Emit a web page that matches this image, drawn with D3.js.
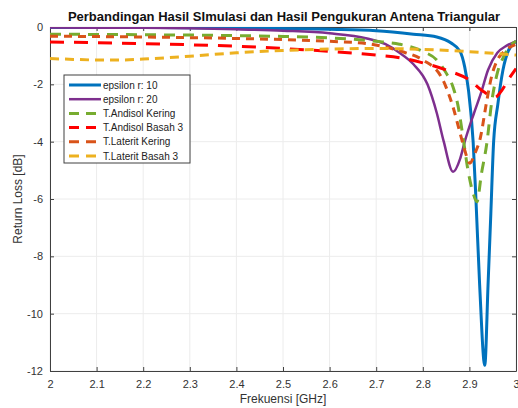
<!DOCTYPE html>
<html>
<head>
<meta charset="utf-8">
<script src="https://cdn.jsdelivr.net/npm/d3@7"></script>
<style>
  body { margin: 0; background: #fff; }
  text { font-family: "Liberation Sans", Arial, sans-serif; }
</style>
</head>
<body>
<div id="chart"></div>
<script>
// data
var xTicks = [2, 2.1, 2.2, 2.3, 2.4, 2.5, 2.6, 2.7, 2.8, 2.9, 3]
var yTicks = [0, -2, -4, -6, -8, -10, -12]

var epsilon10 = [[2.0,-0.02],[2.2,-0.02],[2.4,-0.04],[2.6,-0.08],[2.7,-0.13],[2.78,-0.25],[2.83,-0.35],[2.86,-0.55],[2.88,-0.85],[2.89,-1.4],[2.898,-2.2],[2.908,-4],[2.914,-6],[2.922,-9],[2.933,-11.8],[2.94,-9],[2.946,-6.5],[2.952,-4],[2.961,-2.7],[2.972,-1.5],[2.983,-0.85],[3.0,-0.5]]
var epsilon20 = [[2.0,-0.02],[2.2,-0.03],[2.4,-0.08],[2.5,-0.13],[2.6,-0.22],[2.68,-0.4],[2.72,-0.6],[2.75,-0.9],[2.78,-1.3],[2.81,-2.0],[2.83,-3.0],[2.845,-4.0],[2.865,-5.05],[2.88,-4.6],[2.89,-4.0],[2.91,-3.0],[2.925,-2.3],[2.94,-1.5],[2.96,-0.9],[2.98,-0.65],[3.0,-0.5]]
var andisolKering = [[2.0,-0.25],[2.2,-0.27],[2.4,-0.3],[2.5,-0.33],[2.6,-0.38],[2.7,-0.5],[2.75,-0.6],[2.8,-0.85],[2.83,-1.15],[2.85,-1.6],[2.865,-2.1],[2.875,-2.7],[2.885,-3.7],[2.897,-5.0],[2.908,-5.8],[2.916,-6.1],[2.926,-5.1],[2.937,-4.1],[2.948,-2.6],[2.96,-1.6],[2.973,-1.05],[2.985,-0.7],[3.0,-0.5]]
var andisolBasah = [[2.0,-0.52],[2.1,-0.55],[2.2,-0.58],[2.3,-0.62],[2.4,-0.67],[2.5,-0.75],[2.6,-0.85],[2.7,-0.98],[2.75,-1.07],[2.8,-1.25],[2.85,-1.5],[2.9,-1.85],[2.93,-2.25],[2.955,-2.45],[2.97,-2.2],[2.985,-1.8],[3.0,-1.45]]
var lateritKering = [[2.0,-0.32],[2.2,-0.35],[2.4,-0.4],[2.5,-0.44],[2.6,-0.5],[2.68,-0.58],[2.72,-0.7],[2.76,-0.88],[2.8,-1.15],[2.84,-1.75],[2.865,-2.8],[2.88,-3.7],[2.89,-4.3],[2.901,-4.75],[2.912,-4.4],[2.923,-3.9],[2.937,-2.6],[2.948,-1.7],[2.96,-1.15],[2.975,-0.85],[3.0,-0.6]]
var lateritBasah = [[2.0,-1.1],[2.05,-1.13],[2.1,-1.15],[2.15,-1.15],[2.2,-1.12],[2.3,-1.02],[2.4,-0.9],[2.5,-0.82],[2.6,-0.77],[2.7,-0.75],[2.8,-0.78],[2.9,-0.86],[3.0,-0.98]]

var series = [
  {name: "epsilon r: 10", values: epsilon10, color: "#0072BD", width: 3, dash: null},
  {name: "epsilon r: 20", values: epsilon20, color: "#7E2F8E", width: 2.5, dash: null},
  {name: "T.Andisol Kering", values: andisolKering, color: "#77AC30", width: 3, dash: "11,8"},
  {name: "T.Andisol Basah 3", values: andisolBasah, color: "#FF0000", width: 3, dash: "14,10"},
  {name: "T.Laterit Kering", values: lateritKering, color: "#D95319", width: 3, dash: "8,6"},
  {name: "T.Laterit Basah 3", values: lateritBasah, color: "#EDB120", width: 3, dash: "9,6"}
]

var W = 518, H = 408
var margin = {top: 27, right: 2, bottom: 37, left: 50},
    width = 466,
    height = 344

var svg = d3.select("#chart")
  .append("svg")
    .attr("width", W)
    .attr("height", H)

var g = svg.append("g")
  .attr("transform", "translate(" + margin.left + "," + margin.top + ")")

var x = d3.scaleLinear().domain([2, 3]).range([0, width])
var y = d3.scaleLinear().domain([-12, 0]).range([height, 0])

// grid
g.selectAll(".vgrid").data(xTicks).enter().append("line")
  .attr("x1", d => x(d)).attr("x2", d => x(d))
  .attr("y1", 0).attr("y2", height)
  .attr("stroke", "#ececec").attr("stroke-width", 1)
g.selectAll(".hgrid").data(yTicks).enter().append("line")
  .attr("x1", 0).attr("x2", width)
  .attr("y1", d => y(d)).attr("y2", d => y(d))
  .attr("stroke", "#ececec").attr("stroke-width", 1)

// axes, ticks pointing inward like matlab
var axisCol = "#404040"
g.append("g")
  .attr("transform", "translate(0," + height + ")")
  .call(d3.axisBottom(x).tickValues(xTicks).tickSizeInner(-4).tickSizeOuter(0).tickPadding(9).tickFormat(d3.format("")))
g.append("g")
  .call(d3.axisLeft(y).tickValues(yTicks).tickSizeInner(-4).tickSizeOuter(0).tickPadding(7).tickFormat(d => d === 0 ? "0" : "-" + Math.abs(d)))
g.append("g")
  .attr("transform", "translate(" + width + ",0)")
  .call(d3.axisRight(y).tickValues(yTicks).tickSizeInner(-4).tickSizeOuter(0).tickFormat(""))
g.append("g")
  .call(d3.axisTop(x).tickValues(xTicks).tickSizeInner(-4).tickSizeOuter(0).tickFormat(""))

g.selectAll(".domain").attr("stroke", axisCol)
g.selectAll(".tick line").attr("stroke", axisCol)
g.selectAll(".tick text")
  .attr("fill", "#333")
  .style("font-size", "11px")
  .style("font-family", "'Liberation Sans', Arial, sans-serif")

// lines
g.append("clipPath").attr("id", "clip")
  .append("rect").attr("width", width).attr("height", height)

var line = d3.line()
  .x(d => x(d[0]))
  .y(d => y(d[1]))
  .curve(d3.curveMonotoneX)

var plot = g.append("g").attr("clip-path", "url(#clip)")
series.forEach(function(s) {
  plot.append("path")
    .datum(s.values)
    .attr("fill", "none")
    .attr("stroke", s.color)
    .attr("stroke-width", s.width)
    .attr("stroke-dasharray", s.dash)
    .attr("d", line)
})

// title and labels
svg.append("text")
  .attr("x", 284).attr("y", 21)
  .attr("text-anchor", "middle")
  .style("font-size", "13px").style("font-weight", "bold")
  .attr("fill", "#111")
  .text("Perbandingan Hasil SImulasi dan Hasil Pengukuran Antena Triangular")

svg.append("text")
  .attr("x", 283).attr("y", 403)
  .attr("text-anchor", "middle")
  .style("font-size", "12px")
  .attr("fill", "#333")
  .text("Frekuensi [GHz]")

svg.append("text")
  .attr("transform", "translate(22," + (margin.top + height / 2) + ") rotate(-90)")
  .attr("text-anchor", "middle")
  .style("font-size", "12px")
  .attr("fill", "#333")
  .text("Return Loss [dB]")

// legend
var legend = svg.append("g").attr("transform", "translate(64,75)")
legend.append("rect")
  .attr("width", 126).attr("height", 88)
  .attr("fill", "#fff").attr("stroke", "#404040").attr("stroke-width", 1)

series.forEach(function(s, i) {
  var ly = 10 + i * 14.2
  legend.append("line")
    .attr("x1", 5).attr("x2", 37)
    .attr("y1", ly).attr("y2", ly)
    .attr("stroke", s.color)
    .attr("stroke-width", s.width)
    .attr("stroke-dasharray", s.dash ? "10,7" : null)
  legend.append("text")
    .attr("x", 39).attr("y", ly + 3.5)
    .style("font-size", "10px")
    .attr("fill", "#222")
    .text(s.name)
})
</script>
</body>
</html>
